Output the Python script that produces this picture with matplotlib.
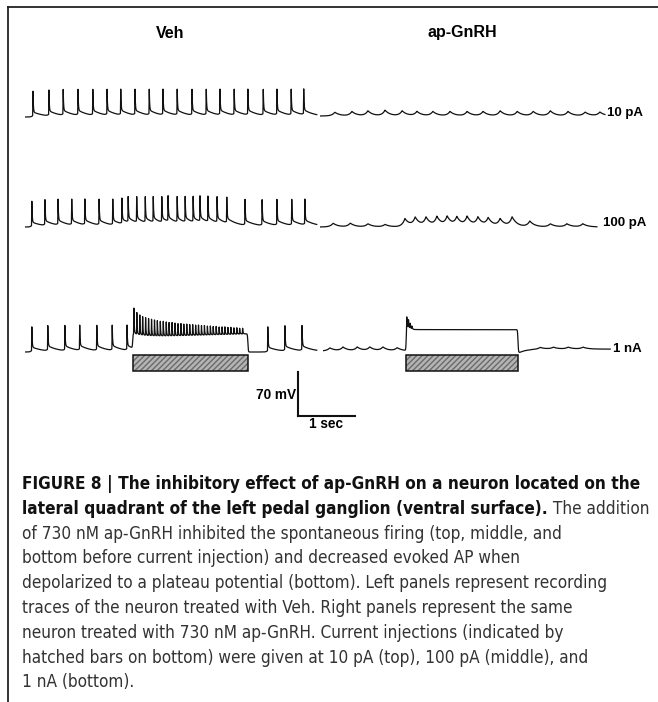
import numpy as np
import matplotlib
matplotlib.use('Agg')
import matplotlib.pyplot as plt
from matplotlib.patches import Rectangle

# ---- values (seconds, mV relative to trough) ----
REST = -55.0
SCALE_MV = 70
SCALE_S = 1

# Veh traces: spike times (s)
veh_10pA_spikes = [0.14, 0.42, 0.67, 0.93, 1.19, 1.44, 1.68, 1.93, 2.18, 2.42,
                   2.67, 2.93, 3.18, 3.42, 3.67, 3.91, 4.18, 4.42, 4.67, 4.89]
veh_100pA_spikes = [0.12, 0.35, 0.58, 0.82, 1.05, 1.30, 1.54, 1.70, 1.81, 1.96,
                    2.11, 2.25, 2.40, 2.51, 2.67, 2.81, 2.95, 3.07, 3.21, 3.37,
                    3.54, 3.86, 4.16, 4.42, 4.68, 4.91]
veh_1nA_spikes = [0.12, 0.40, 0.70, 0.96, 1.26, 1.53, 1.79, 4.26, 4.56, 4.86]
veh_spike_amp = [41, 41, 40]
veh_1nA_inj = (1.89, 3.91)
veh_1nA_plateau = (24, 29)          # start / end of plateau (mV)
# burst during injection: spike heights above plateau (mV)
veh_burst_amps = [40, 34, 31, 29, 28, 27, 26, 25, 24, 23, 23, 22, 21, 21, 20,
                  19, 19, 18, 18, 17, 17, 16, 16, 15, 15, 14, 14, 13, 13, 12,
                  12, 12, 11, 11, 10, 10, 9, 9]

# ap-GnRH traces: oscillation peak times (s) and heights (mV)
ap_10pA_t = [0.26, 0.56, 0.84, 1.14, 1.44, 1.70, 1.98, 2.28, 2.58, 2.86,
             3.16, 3.46, 3.74, 4.04, 4.35, 4.65, 4.91]
ap_10pA_a = [6, 7, 8, 9, 8, 7, 7, 7, 7, 7, 8, 7, 7, 8, 7, 6, 6]
ap_100pA_t = [0.23, 0.53, 0.84, 1.14, 1.49, 1.67, 1.86, 2.05, 2.23, 2.40,
              2.58, 2.77, 2.95, 3.16, 3.37, 3.68, 4.04, 4.33, 4.61]
ap_100pA_a = [6, 6, 5, 4, 13, 14, 14, 15, 15, 14, 15, 14, 13, 12, 15, 9, 5, 5, 5]
ap_1nA_t = [0.12, 0.35, 0.60, 0.82, 1.05, 1.30, 3.81, 4.04, 4.30, 4.56]
ap_1nA_a = [5, 6, 6, 6, 6, 5, 3, 3, 3, 3]
ap_1nA_inj = (1.46, 3.42)
ap_1nA_plateau = 34
ap_1nA_transient = [22, 14, 9, 5]
ap_1nA_after = 3
ap_1nA_undershoot = -4

durations = {'veh': [5.12, 5.12, 5.12], 'ap': [5.0, 4.86, 5.04]}
currents = ['10 pA', '100 pA', '1 nA']
conditions = ['Veh', 'ap-GnRH']

caption = [
    ('FIGURE 8 | The inhibitory effect of ap-GnRH on a neuron located on the', ''),
    ('lateral quadrant of the left pedal ganglion (ventral surface).', ' The addition'),
    ('', 'of 730 nM ap-GnRH inhibited the spontaneous firing (top, middle, and'),
    ('', 'bottom before current injection) and decreased evoked AP when'),
    ('', 'depolarized to a plateau potential (bottom). Left panels represent recording'),
    ('', 'traces of the neuron treated with Veh. Right panels represent the same'),
    ('', 'neuron treated with 730 nM ap-GnRH. Current injections (indicated by'),
    ('', 'hatched bars on bottom) were given at 10 pA (top), 100 pA (middle), and'),
    ('', '1 nA (bottom).'),
]

# ---- layout (pixels) ----
W, H = 658, 702
PX_S = 57.0
PX_MV = 44.0 / 70.0
DT = 0.002


def spike_kernel(dt, amp, shoulder=8.0, pre=3.0, tau_sh=0.2, tau_pre=0.02):
    v = np.zeros_like(dt)
    before = dt < -1e-9
    if pre:
        v[before] = pre * np.exp(dt[before] / tau_pre)
    rise = (dt > -0.006) & before
    v[rise] += (amp - pre) * (dt[rise] + 0.006) / 0.006
    after = ~before
    d = np.clip(dt[after], 0, None)
    v[after] = amp * np.exp(-d / 0.006) + shoulder * np.exp(-d / tau_sh) * (1 - np.exp(-d / 0.004))
    return v


def bump(dt, amp, rise=0.05, decay=0.09):
    return amp * np.where(dt < 0, np.exp(np.clip(dt, -50, 0) / rise),
                          np.exp(-np.clip(dt, 0, None) / decay))


def window(t, on, off, tau=0.004):
    return 1 / (1 + np.exp(-(t - on) / tau)) / (1 + np.exp(-(off - t) / tau))


def grid(dur):
    return np.arange(0, dur, DT)


def snap(s):
    return round(s / DT) * DT


fig = plt.figure(figsize=(W / 100, H / 100), dpi=100)
over = fig.add_axes([0, 0, 1, 1])
over.set_xlim(0, W)
over.set_ylim(H, 0)
over.axis('off')


def trace_axes(x0, base):
    ax = fig.add_axes([x0 / W, 1 - (base + 30) / H, 300 / W, 75 / H])
    ax.set_xlim(0, 300 / PX_S)
    ax.set_ylim(REST - 30 / PX_MV, REST + 45 / PX_MV)
    ax.axis('off')
    return ax


def hatched_bar(ax, base, on, off):
    top = REST - (355 - base) / PX_MV
    bot = REST - (371 - base) / PX_MV
    ax.add_patch(Rectangle((on, bot), off - on, top - bot, facecolor='#b4b4b4',
                           edgecolor='#6a6a6a', hatch='//////', lw=0))
    ax.add_patch(Rectangle((on, bot), off - on, top - bot, fill=False,
                           edgecolor='#111111', lw=1.1))


# frame
over.plot([8, W], [7, 7], color='#222222', lw=1.3)
over.plot([8, 8], [7, H], color='#222222', lw=1.3)

over.text(170, 33, conditions[0], ha='center', va='center', fontsize=11.5,
          fontweight='bold', family='Liberation Sans')
over.text(462, 33, conditions[1], ha='center', va='center', fontsize=11.5,
          fontweight='bold', family='Liberation Sans')

veh_x0 = [25, 25, 25]
veh_base = [117, 227, 352]
ap_x0 = [320, 320, 323]
ap_base = [116, 227, 351]
label_x = [607, 603, 613]
label_y = [113, 223, 349]

# --- Veh traces ---
for row, spikes in enumerate([veh_10pA_spikes, veh_100pA_spikes, veh_1nA_spikes]):
    t = grid(durations['veh'][row])
    v = np.full_like(t, REST)
    for s in spikes:
        v += spike_kernel(t - snap(s), veh_spike_amp[row])
    if row == 2:
        on, off = veh_1nA_inj
        frac = np.clip((t - on) / (off - on), 0, 1)
        plateau = veh_1nA_plateau[0] + (veh_1nA_plateau[1] - veh_1nA_plateau[0]) * frac
        v += plateau * window(t, on, off)
        times = on + 0.02 + (off - on - 0.06) * np.arange(len(veh_burst_amps)) / len(veh_burst_amps)
        for s, a in zip(times, veh_burst_amps):
            v += spike_kernel(t - snap(s), a, shoulder=1.0, pre=0.0, tau_sh=0.015)
    ax = trace_axes(veh_x0[row], veh_base[row])
    ax.plot(t, v, color='#111111', lw=0.9)
    if row == 2:
        hatched_bar(ax, veh_base[row], *veh_1nA_inj)

# --- ap-GnRH traces ---
ap_sets = [(ap_10pA_t, ap_10pA_a), (ap_100pA_t, ap_100pA_a), (ap_1nA_t, ap_1nA_a)]
for row, (bt, ba) in enumerate(ap_sets):
    t = grid(durations['ap'][row])
    v = np.full_like(t, REST)
    for s, a in zip(bt, ba):
        v += bump(t - s, a)
    if row == 2:
        on, off = ap_1nA_inj
        v += ap_1nA_plateau * window(t, on, off)
        for k, a in enumerate(ap_1nA_transient):
            v += bump(t - (on + 0.01 + 0.03 * k), a, rise=0.004, decay=0.01)
        after = t >= off
        d = t[after] - off
        v[after] += ap_1nA_after + (ap_1nA_undershoot - ap_1nA_after) * np.exp(-d / 0.12) \
            * (1 - np.exp(-d / 0.01))
    ax = trace_axes(ap_x0[row], ap_base[row])
    ax.plot(t, v, color='#111111', lw=0.9)
    if row == 2:
        hatched_bar(ax, ap_base[row], *ap_1nA_inj)
    over.text(label_x[row], label_y[row], currents[row], ha='left', va='center',
              fontsize=9.5, fontweight='bold', family='Liberation Sans')

# --- scale bar ---
sb = fig.add_axes([290 / W, 1 - 430 / H, 80 / W, 70 / H])
sb.set_xlim(-8 / PX_S, 72 / PX_S)
sb.set_ylim(-14 / PX_MV, 56 / PX_MV)
sb.axis('off')
sb.plot([0, 0], [0, SCALE_MV], color='#111111', lw=1.5)
sb.plot([0, SCALE_S], [0, 0], color='#111111', lw=1.5)
over.text(296, 395, '%d mV' % SCALE_MV, ha='right', va='center', fontsize=9.8,
          fontweight='bold', family='Liberation Sans')
over.text(326, 424, '%d sec' % SCALE_S, ha='center', va='center', fontsize=9.8,
          fontweight='bold', family='Liberation Sans')

# --- caption ---
cap_font = ['DejaVu Sans']
renderer = fig.canvas.get_renderer()
# size the caption so its widest line (bold part + normal part) fits the frame
widths = []
for bold, normal in caption[:2]:
    w = 0
    for part, weight in [(bold, 'bold'), (normal, 'normal')]:
        if part:
            p = fig.text(0, 0, part, fontsize=10, fontweight=weight, family=cap_font,
                         fontstretch='condensed')
            w += p.get_window_extent(renderer).width
            p.remove()
    widths.append(w)
fs = 10 * 624 / max(widths)

cap_x, cap_y0, cap_dy = 22, 484, 24.8
for i, (bold, normal) in enumerate(caption):
    y = 1 - (cap_y0 + i * cap_dy) / H
    x = cap_x / W
    if bold:
        tb = fig.text(x, y, bold, fontsize=fs, fontweight='bold', family=cap_font,
                      fontstretch='condensed', va='center', color='#111111')
        x = tb.get_window_extent(renderer).x1 / W
    if normal:
        fig.text(x, y, normal, fontsize=fs, family=cap_font, fontstretch='condensed',
                 va='center', color='#333333')

fig.savefig('out.png', dpi=100)
